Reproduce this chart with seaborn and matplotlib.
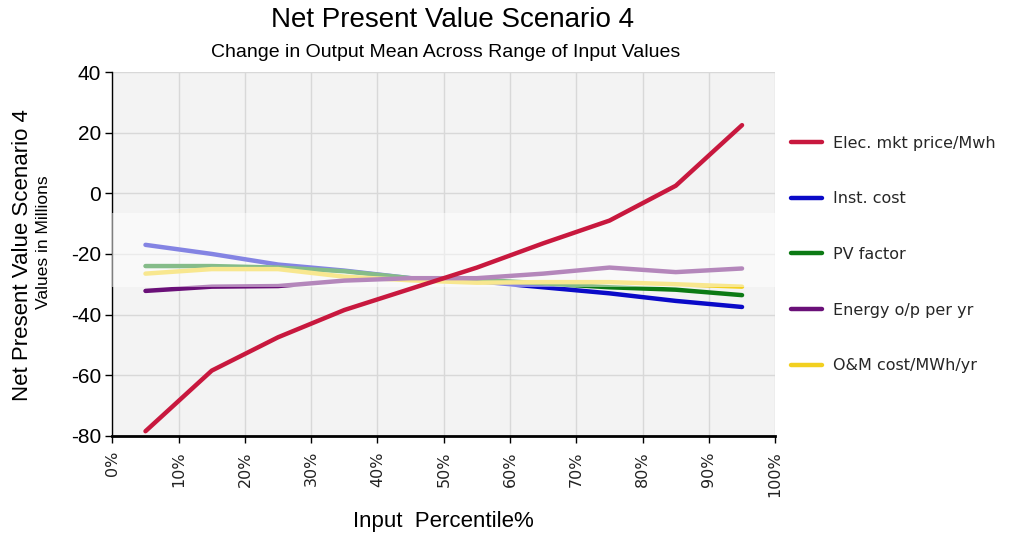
import seaborn as sns
import matplotlib
matplotlib.use("Agg")
import matplotlib.pyplot as plt
import pandas as pd
from matplotlib.ticker import PercentFormatter

# input percentiles (%)
percentiles = [5, 15, 25, 35, 45, 55, 65, 75, 85, 95]

elec_price = [-78.5, -58.5, -47.5, -38.5, -31.5, -24.5, -16.5, -9.0, 2.5, 22.5]
inst_cost = [-17.0, -20.0, -23.5, -25.5, -28.0, -29.0, -31.0, -33.0, -35.5, -37.5]
pv_factor = [-24.0, -24.0, -24.5, -25.7, -28.0, -28.5, -29.7, -31.0, -31.8, -33.6]
energy_op = [-32.2, -30.8, -30.6, -28.8, -28.0, -28.0, -26.5, -24.5, -26.0, -24.8]
om_cost = [-26.5, -25.0, -25.0, -27.5, -28.7, -29.5, -29.3, -29.3, -30.0, -30.8]

labels = ["Elec. mkt price/Mwh", "Inst. cost", "PV factor", "Energy o/p per yr", "O&M cost/MWh/yr"]
colors = ["#c8183e", "#0a0ac8", "#0c7a14", "#6a1078", "#f2d020"]

data = pd.DataFrame()
for lab, vals in zip(labels, [elec_price, inst_cost, pv_factor, energy_op, om_cost]):
    data = pd.concat([data, pd.DataFrame({"Percentile": percentiles, "Value": vals, "Input": lab})],
                     ignore_index=True)

sns.set_theme(style="whitegrid")
plt.rcParams['font.family'] = ['DejaVu Sans']
plt.rcParams['axes.unicode_minus'] = False

fig = plt.figure(figsize=(10.12, 5.38), dpi=100)
ax = fig.add_axes([0.111, 0.19, 0.655, 0.676])

# draw order; red sits above the washed-out band, the rest below it
order = ["Inst. cost", "PV factor", "O&M cost/MWh/yr", "Energy o/p per yr", "Elec. mkt price/Mwh"]
for lab in order:
    sub = data[data["Input"] == lab]
    z = 5 if lab.startswith("Elec") else 3
    sns.lineplot(x="Percentile", y="Value", data=sub, color=colors[labels.index(lab)],
                 lw=3.2, ax=ax, legend=False, solid_capstyle="round", zorder=z)

# washed-out band across the middle of the original
ax.axhspan(-31, -6.5, color="white", alpha=0.5, zorder=4, lw=0)

ax.set_facecolor("#f3f3f3")
ax.set_xlim(0, 100)
ax.set_ylim(-80, 40)
ax.set_xticks(range(0, 101, 10))
ax.set_yticks(range(-80, 41, 20))
ax.xaxis.set_major_formatter(PercentFormatter(decimals=0))
ax.grid(True, color="#d8d8d8", lw=1)
for s in ["top", "right"]:
    ax.spines[s].set_visible(False)
ax.spines["left"].set_color("black")
ax.spines["left"].set_linewidth(1)
ax.spines["bottom"].set_color("black")
ax.spines["bottom"].set_linewidth(2)
ax.tick_params(axis="both", which="both", direction="out", length=5, width=1, color="black",
               left=True, bottom=True)
ax.tick_params(axis="x", labelrotation=90, labelsize=11.5, pad=6, labelcolor="#222222")
ax.tick_params(axis="y", labelsize=15, pad=3, labelcolor="black")
for t in ax.get_yticklabels():
    t.set_fontfamily("Liberation Sans")
ax.set_xlabel("Input  Percentile%", fontsize=16, family="Liberation Sans", labelpad=10,
              color="black")
ax.set_ylabel("")

fig.text(0.447, 0.962, "Net Present Value Scenario 4", ha="center", va="center",
         fontsize=20, family="Liberation Sans", color="black")
fig.text(0.440, 0.903, "Change in Output Mean Across Range of Input Values", ha="center",
         va="center", fontsize=14, family="Liberation Sans", color="black")
fig.text(0.022, 0.525, "Net Present Value Scenario 4", rotation=90, ha="center", va="center",
         fontsize=16, family="Liberation Sans", color="black")
fig.text(0.043, 0.55, "Values in Millions", rotation=90, ha="center", va="center",
         fontsize=12.5, family="Liberation Sans", color="black")

handles = [plt.Line2D([], [], color=c, lw=3.2) for c in colors]
fig.legend(handles, labels, loc="upper left", bbox_to_anchor=(0.782, 0.748), frameon=False,
           fontsize=11.5, handlelength=1.9, labelspacing=2.55, handletextpad=0.7, borderpad=0,
           borderaxespad=0)

plt.savefig("out.png", dpi=100)
